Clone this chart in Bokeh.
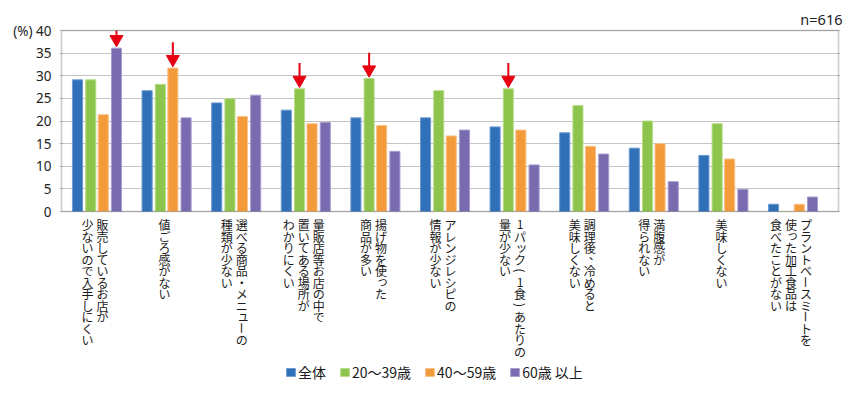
import math
from bokeh.plotting import figure
from bokeh.models import (ColumnDataSource, Range1d, FixedTicker,
                          Legend, LegendItem, LabelSet, BoxAnnotation)
from bokeh.core.properties import value
from bokeh.embed import file_html
from bokeh.resources import INLINE

# ---------------- data ----------------
categories = [
    "販売しているお店が\n少ないので入手しにくい",
    "値ごろ感がない",
    "選べる商品・メニューの\n種類が少ない",
    "量販店等お店の中で\n置いてある場所が\nわかりにくい",
    "揚げ物を使った\n商品が多い",
    "アレンジレシピの\n情報が少ない",
    "1パック(1食)あたりの\n量が少ない",
    "調理後、冷めると\n美味しくない",
    "満腹感が\n得られない",
    "美味しくない",
    "プラントベースミートを\n使った加工食品は\n食べたことがない",
]
series_names = ["全体", "20〜39歳", "40〜59歳", "60歳 以上"]
all_ages = [29.1, 26.7, 24.0, 22.4, 20.7, 20.7, 18.7, 17.4, 14.0, 12.4, 1.6]
age_20_39 = [29.1, 28.1, 25.0, 27.1, 29.4, 26.7, 27.1, 23.4, 20.0, 19.4, 0.0]
age_40_59 = [21.4, 31.7, 21.0, 19.4, 19.0, 16.7, 18.0, 14.4, 15.0, 11.6, 1.6]
age_60_up = [36.1, 20.7, 25.7, 19.7, 13.3, 18.0, 10.3, 12.7, 6.6, 4.9, 3.2]
y_ticks = [0, 5, 10, 15, 20, 25, 30, 35, 40]
y_max = 40
# (category index, series index) marked with a red arrow
highlights = [(0, 3), (1, 2), (3, 1), (4, 1), (6, 1)]
sample_note = "n=616"
unit_note = "(%)"

# ---------------- style / layout ----------------
colors = ["#2f70b9", "#8dc44b", "#f39b3a", "#7a6bb0"]
edge_colors = ["#6e9bd3", "#b9dc8c", "#f8c28a", "#a79dcf"]
offsets = [-0.28, -0.09, 0.09, 0.28]
bar_width = 0.145
FONT = "Noto Sans CJK JP"
W, H = 856, 391
box_left, box_right = 61, 838        # chart box, page px
box_top, zero_px = 30, 211
pad = 2                               # frame extends past the box so its edges show
group_px = 69.6                       # px per category
first_center = 96.5                   # px of first category centre

frame_left, frame_right = box_left - pad, box_right + pad
x_start = -(first_center - frame_left) / group_px
x_end = (frame_right - first_center) / group_px
bx0 = -(first_center - box_left) / group_px
bx1 = (box_right - first_center) / group_px
units_per_px = y_max / (zero_px - box_top)
y_end = y_max + pad * units_per_px
y_start = -(H - zero_px) * units_per_px

series_values = [all_ages, age_20_39, age_40_59, age_60_up]
xpos = list(range(len(categories)))
cols = {"x": xpos}
for i, vals in enumerate(series_values):
    cols[f"s{i}"] = vals
    cols[f"x{i}"] = [x + offsets[i] for x in xpos]
source = ColumnDataSource(cols)

p = figure(width=W, height=H,
           x_range=Range1d(x_start, x_end),
           y_range=Range1d(y_start, y_end),
           output_backend="svg", toolbar_location=None,
           min_border_left=frame_left, min_border_right=W - frame_right,
           min_border_top=box_top - pad, min_border_bottom=0)

p.background_fill_color = "white"
p.border_fill_color = "white"
p.outline_line_color = None

p.title.text = sample_note
p.title.align = "right"
p.title.text_font = "Noto Sans"
p.title.text_font_size = "14.5px"
p.title.text_font_style = "normal"
p.title.text_color = "#222222"
p.title.standoff = 0
p.title.offset = -2

p.xaxis.visible = False
p.xgrid.visible = False
p.ygrid.grid_line_color = "#c4c4c4"
p.ygrid.grid_line_width = 1.2
p.ygrid.bounds = (bx0, bx1)

p.yaxis.ticker = FixedTicker(ticks=y_ticks)
p.yaxis.bounds = (0, y_max)
p.yaxis.major_label_overrides = {y_max: unit_note + " " + str(y_max)}
p.yaxis.axis_line_color = None
p.yaxis.major_tick_line_color = None
p.yaxis.minor_tick_line_color = None
p.yaxis.major_label_standoff = 2
p.yaxis.major_label_text_font = "Noto Sans"
p.yaxis.major_label_text_font_size = "13.5px"
p.yaxis.major_label_text_color = "#222222"

renderers = []
for i in range(4):
    r = p.vbar(x=f"x{i}", top=f"s{i}", width=bar_width, source=source,
               fill_color=colors[i], line_color=edge_colors[i], line_width=1)
    renderers.append(r)

# chart box (0..40)
p.add_layout(BoxAnnotation(left=bx0, right=bx1, bottom=0, top=y_max,
                           fill_alpha=0, line_color="#555555", line_width=1.6,
                           level="overlay"))

# red arrows
for ci, si in highlights:
    v = series_values[si][ci]
    sub = ColumnDataSource(dict(x=[ci + offsets[si]], head=[v + 1.95],
                                top=[min(v + 5.7, y_max)]))
    p.segment(x0="x", y0="head", x1="x", y1="top", source=sub,
              line_color="#e60012", line_width=2)
    p.scatter(x="x", y="head", source=sub, marker="inverted_triangle", size=13,
              fill_color="#e60012", line_color="#e60012")

# vertical category labels (one text per character, columns right to left)
small_kana = set("ぁぃぅぇぉっゃゅょァィゥェォッャュョ")
rotated = set("ー()（）〜")
punct = set("、。")
step = 11.5
col_gap = 15
rows = dict(x=[], y=[], xo=[], yo=[], ch=[], ang=[])
for ci, cat in enumerate(categories):
    lines = cat.split("\n")
    n = len(lines)
    for j, line in enumerate(lines):
        xo = -2 + (n - 1) * col_gap / 2 - j * col_gap
        for k, ch in enumerate(line):
            dx, dy, ang = 0.0, 0.0, 0.0
            if ch in small_kana:
                dx, dy = 1.5, 1.5
            if ch in punct:
                dx, dy = 5.0, 5.0
            if ch in rotated:
                ang = -math.pi / 2
            rows["x"].append(ci)
            rows["y"].append(0)
            rows["xo"].append(xo + dx)
            rows["yo"].append(-(13 + k * step) + dy)
            rows["ch"].append(ch)
            rows["ang"].append(ang)

labels = LabelSet(x="x", y="y", x_offset="xo", y_offset="yo", text="ch",
                  angle="ang", source=ColumnDataSource(rows),
                  text_font=value(FONT), text_font_size="12px",
                  text_color="#1a1a1a", text_align="center",
                  text_baseline="middle")
p.add_layout(labels)

legend = Legend(items=[LegendItem(label=series_names[i], renderers=[renderers[i]])
                       for i in range(4)],
                location=(285 - frame_left, 9), orientation="horizontal",
                glyph_width=11, glyph_height=10, label_standoff=2, spacing=13,
                padding=0, margin=0, border_line_color=None,
                background_fill_alpha=0,
                label_text_font=FONT, label_text_font_size="14px",
                label_text_font_style="normal",
                label_text_color="#1a1a1a", label_height=14)
p.add_layout(legend)

open("out.html", "w").write(file_html(p, INLINE))
